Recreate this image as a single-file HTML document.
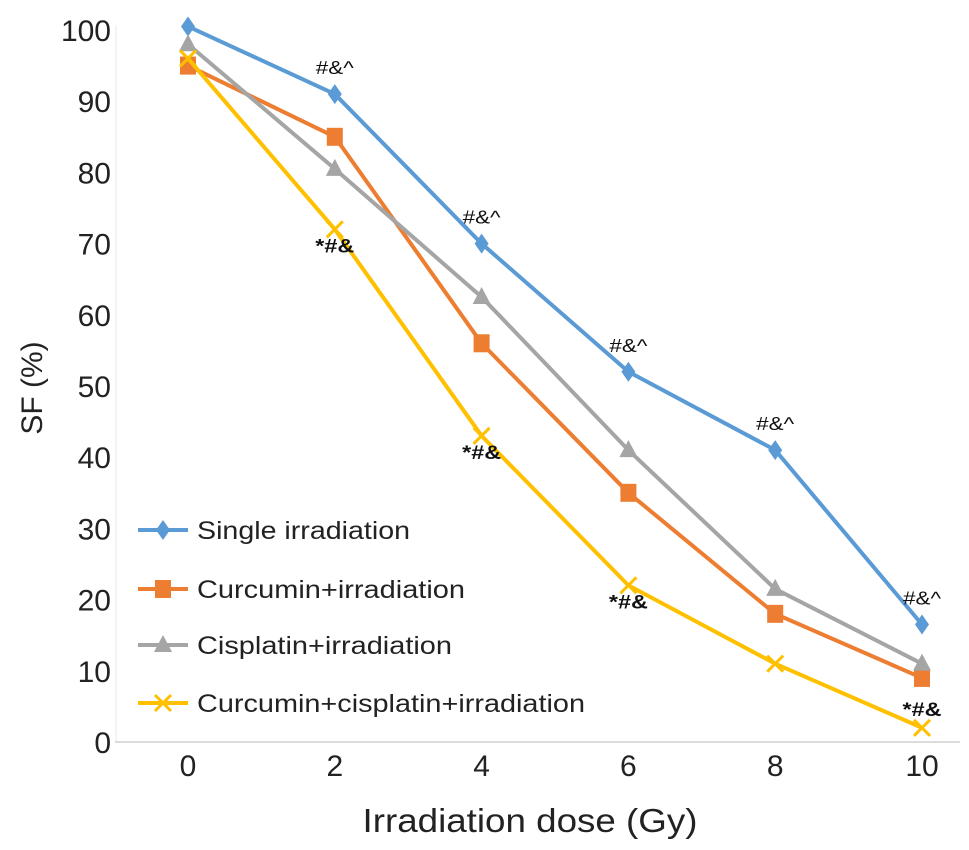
<!DOCTYPE html>
<html><head><meta charset="utf-8"><style>
html,body{margin:0;padding:0;background:#fff;}
svg{display:block;font-family:"Liberation Sans",Arial,sans-serif;}
</style></head><body>
<svg id="chart" width="969" height="850" viewBox="0 0 969 850">
<g id="axes"></g>
<g id="series"></g>
<g id="legend"></g>
</svg>
<script>
const doses = [0, 2, 4, 6, 8, 10];
const yTicks = [0, 10, 20, 30, 40, 50, 60, 70, 80, 90, 100];
const singleIrr = [100.5, 91, 70, 52, 41, 16.5];
const curcuminIrr = [95, 85, 56, 35, 18, 9];
const cisplatinIrr = [98, 80.5, 62.5, 41, 21.5, 11];
const comboIrr = [96, 72, 43, 22, 11, 2];
const seriesNames = ["Single irradiation", "Curcumin+irradiation", "Cisplatin+irradiation", "Curcumin+cisplatin+irradiation"];
const singleNotes = ["", "#&^", "#&^", "#&^", "#&^", "#&^"];
const comboNotes = ["", "*#&", "*#&", "*#&", "", "*#&"];

const NS = "http://www.w3.org/2000/svg";
const X = d => 188 + d * 73.4;
const Y = v => 742 - v * 7.12;
function mk(tag, attrs, parent, text) {
  const e = document.createElementNS(NS, tag);
  for (const k in attrs) e.setAttribute(k, attrs[k]);
  if (text !== undefined) e.textContent = text;
  parent.appendChild(e);
  return e;
}
const axes = document.getElementById("axes");
const sg = document.getElementById("series");
const lg = document.getElementById("legend");

let el = mk("line", {x1: 116, x2: 116, y1: 25, y2: Y(0), stroke: "#f0f0f0", "stroke-width": 1.5}, axes);


el = mk("line", {x1: 115, x2: 960, y1: Y(0), y2: Y(0), stroke: "#d0d0d0", "stroke-width": 1.5}, axes);


yTicks.forEach(t => {
  const s = String(t);
  const e = mk("text", {x: 111, y: Y(t) + 11, "text-anchor": "end", "font-size": 30, fill: "#222"}, axes, s);
  
  
});
doses.forEach(d => {
  const s = String(d);
  const e = mk("text", {x: X(d), y: 776, "text-anchor": "middle", "font-size": 30, fill: "#222"}, axes, s);
  
  
});
el = mk("text", {x: 530, y: 832, "text-anchor": "middle", "font-size": 33, fill: "#222", textLength: 335, lengthAdjust: "spacingAndGlyphs"}, axes, "Irradiation dose (Gy)");


el = mk("text", {x: 42, y: 388, "text-anchor": "middle", "font-size": 30, fill: "#222", transform: "rotate(-90 42 388)"}, axes, "SF (%)");



function marker(type, cx, cy, color, parent) {
  let m;
  if (type === "diamond") m = mk("polygon", {points: `${cx},${cy-10} ${cx+7},${cy} ${cx},${cy+10} ${cx-7},${cy}`, fill: color}, parent);
  else if (type === "square") m = mk("rect", {x: cx-8, y: cy-9, width: 16, height: 18, fill: color}, parent);
  else if (type === "triangle") m = mk("polygon", {points: `${cx},${cy-10} ${cx+9},${cy+7} ${cx-9},${cy+7}`, fill: color}, parent);
  else m = mk("path", {d: `M${cx-8},${cy-8}L${cx+8},${cy+8}M${cx+8},${cy-8}L${cx-8},${cy+8}`, stroke: color, "stroke-width": 3}, parent);
  return m;
}
const cfg = [
  {vals: singleIrr, color: "#5b9bd5", mk: "diamond", name: "series-single-irradiation"},
  {vals: curcuminIrr, color: "#ed7d31", mk: "square", name: "series-curcumin-irradiation"},
  {vals: cisplatinIrr, color: "#a5a5a5", mk: "triangle", name: "series-cisplatin-irradiation"},
  {vals: comboIrr, color: "#ffc000", mk: "x", name: "series-curcumin-cisplatin-irradiation"}
];
cfg.forEach(c => {
  const g = mk("g", {}, sg);
  
  
  const pl = mk("polyline", {points: c.vals.map((v, i) => X(doses[i]) + "," + Y(v)).join(" "), fill: "none", stroke: c.color, "stroke-width": 4, "stroke-linejoin": "round"}, g);
  
  
  c.vals.forEach((v, i) => {
    const m = marker(c.mk, X(doses[i]), Y(v), c.color, g);
    
    
  });
});
singleNotes.forEach((n, i) => {
  if (!n) return;
  const e = mk("text", {x: X(doses[i]), y: Y(singleIrr[i]) - 20, "text-anchor": "middle", "font-size": 18, fill: "#111", textLength: 38, lengthAdjust: "spacingAndGlyphs"}, sg, n);
  
  
});
comboNotes.forEach((n, i) => {
  if (!n) return;
  const yy = i === 5 ? Y(comboIrr[i]) - 12 : Y(comboIrr[i]) + 23;
  const e = mk("text", {x: X(doses[i]), y: yy, "text-anchor": "middle", "font-size": 19, fill: "#111", "font-weight": "bold", textLength: 39, lengthAdjust: "spacingAndGlyphs"}, sg, n);
  
  
});
const legY = [530, 589, 645, 703];
const legW = [213, 268, 255, 388];
cfg.forEach((c, i) => {
  const g = mk("g", {}, lg);
  
  
  mk("line", {x1: 138, x2: 188, y1: legY[i], y2: legY[i], stroke: c.color, "stroke-width": 4}, g);
  marker(c.mk, 163, legY[i], c.color, g);
  mk("text", {x: 197, y: legY[i] + 9, "font-size": 25, fill: "#222", textLength: legW[i], lengthAdjust: "spacingAndGlyphs"}, g, seriesNames[i]);
});
</script>
</body></html>
